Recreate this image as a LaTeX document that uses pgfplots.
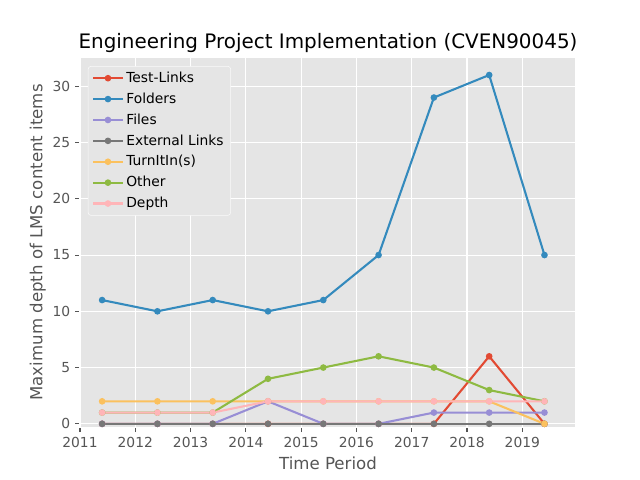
\documentclass[border=0pt]{standalone}
\usepackage{pgfplots}
\pgfplotsset{compat=1.18}
\usepackage{fontspec}
\setmainfont{DejaVu Sans}
\definecolor{cA}{HTML}{E24A33}
\definecolor{cB}{HTML}{348ABD}
\definecolor{cC}{HTML}{988ED5}
\definecolor{cD}{HTML}{777777}
\definecolor{cE}{HTML}{FBC15E}
\definecolor{cF}{HTML}{8EBA42}
\definecolor{cG}{HTML}{FFB5B8}
\definecolor{bg}{HTML}{E5E5E5}
\definecolor{txt}{HTML}{555555}
\begin{document}
\begin{tikzpicture}
\path (0,0) rectangle (6.4in,4.8in);
\begin{axis}[
  at={(0.8in,0.528in)}, anchor=south west,
  scale only axis, width=4.96in, height=3.696in,
  xmin=2011, xmax=2019.97, ymin=-0.3, ymax=32.55,
  axis background/.style={fill=bg},
  axis line style={white, line width=1pt},
  grid=major, major grid style={white, line width=0.8pt},
  xtick={2011,...,2019}, ytick={0,5,...,30},
  xtick pos=bottom, ytick pos=left,
  tick align=outside, major tick length=3.5pt,
  tick style={txt, line width=0.8pt},
  /pgf/number format/assume math mode=true,
  x tick label style={/pgf/number format/1000 sep={}},
  ticklabel style={font=\fontsize{10}{12}\selectfont, text=txt},
  title={Engineering Project Implementation (CVEN90045)},
  title style={font=\fontsize{14.4}{17}\selectfont, yshift=-6pt},
  xlabel={Time Period}, ylabel={Maximum depth of LMS content items},
  label style={font=\fontsize{12}{14}\selectfont, text=txt},
  ylabel style={yshift=-2pt},
  every axis plot/.append style={line width=1.5pt, mark=*, mark size=1.6pt},
  legend image code/.code={\draw[mark repeat=2,mark phase=2] plot coordinates {(0cm,0cm)(0.37cm,0cm)(0.74cm,0cm)};},
  legend style={at={(0.016,0.977)}, anchor=north west, fill=bg, draw=white!80!bg,
    rounded corners=2pt, font=\fontsize{10}{12}\selectfont, row sep=2pt},
  legend cell align=left,
]
\addplot[cA] coordinates {(2011.4,0)(2012.4,0)(2013.4,0)(2014.4,0)(2015.4,0)(2016.4,0)(2017.4,0)(2018.4,6)(2019.4,0)};
\addplot[cB] coordinates {(2011.4,11)(2012.4,10)(2013.4,11)(2014.4,10)(2015.4,11)(2016.4,15)(2017.4,29)(2018.4,31)(2019.4,15)};
\addplot[cC] coordinates {(2011.4,0)(2012.4,0)(2013.4,0)(2014.4,2)(2015.4,0)(2016.4,0)(2017.4,1)(2018.4,1)(2019.4,1)};
\addplot[cD] coordinates {(2011.4,0)(2012.4,0)(2013.4,0)(2014.4,0)(2015.4,0)(2016.4,0)(2017.4,0)(2018.4,0)(2019.4,0)};
\addplot[cE] coordinates {(2011.4,2)(2012.4,2)(2013.4,2)(2014.4,2)(2015.4,2)(2016.4,2)(2017.4,2)(2018.4,2)(2019.4,0)};
\addplot[cF] coordinates {(2011.4,1)(2012.4,1)(2013.4,1)(2014.4,4)(2015.4,5)(2016.4,6)(2017.4,5)(2018.4,3)(2019.4,2)};
\addplot[cG] coordinates {(2011.4,1)(2012.4,1)(2013.4,1)(2014.4,2)(2015.4,2)(2016.4,2)(2017.4,2)(2018.4,2)(2019.4,2)};
\legend{Test-Links, Folders, Files, External Links, TurnItIn(s), Other, Depth}
\end{axis}
\end{tikzpicture}
\end{document}
